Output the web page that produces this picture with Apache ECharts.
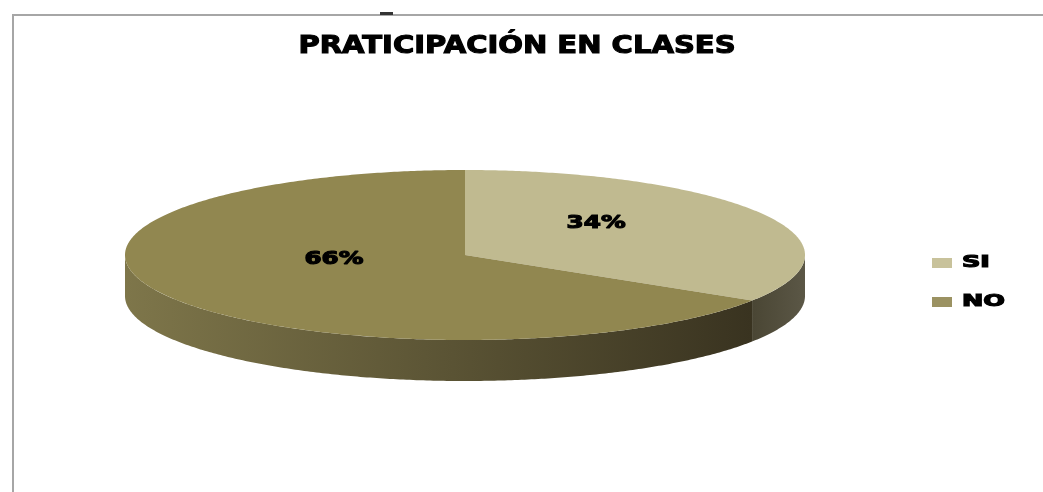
<!DOCTYPE html>
<html>
<head>
<meta charset="utf-8">
<script src="https://cdn.jsdelivr.net/npm/echarts@6/dist/echarts.min.js"></script>
<style>
  html, body { margin: 0; padding: 0; background: #ffffff; }
  #chart { width: 1043px; height: 492px; }
</style>
</head>
<body>
<div id="chart"></div>
<script>
// Chart content
const chartTitle = 'PRATICIPACIÓN EN CLASES';
const categories = ['SI', 'NO'];
const values = [34, 66];

// Slice colours: top face, front wall gradient (left -> right), legend swatch
const topColors = ['#C0BA90', '#918750'];
const wallColors = [['#4a4634', '#5b5746'], ['#7e764a', '#393320']];
const swatchColors = ['#C8C29B', '#9B9262'];

const total = values.reduce((a, b) => a + b, 0);

// Tilted disc geometry
const CX = 465, CY = 255, RX = 340, RY = 85, DEPTH = 41;
const FONT = 'DejaVu Sans';

function rimPoint(a, dy) {
  return [CX + RX * Math.sin(a), CY - RY * Math.cos(a) + (dy || 0)];
}
function arcPoints(a0, a1, dy) {
  const n = Math.max(2, Math.ceil((a1 - a0) / 0.01));
  const pts = [];
  for (let i = 0; i <= n; i++) pts.push(rimPoint(a0 + (a1 - a0) * i / n, dy));
  return pts;
}

// Heavy black text used for the title, labels and legend
function heavyText(text, size, align) {
  return {
    text: text,
    fill: '#000000',
    stroke: '#000000',
    lineWidth: 1.1,
    font: 'bold ' + size + 'px ' + FONT,
    align: align,
    verticalAlign: 'middle'
  };
}

// Draws one slice: visible front wall, top face and percentage label
function sliceRenderer(idx) {
  return function (params, api) {
    const v = api.value(0);
    let before = 0;
    for (let i = 0; i < idx; i++) before += values[i];
    const a0 = before / total * 2 * Math.PI;
    const a1 = (before + v) / total * 2 * Math.PI;
    const children = [];

    // front wall: only the part of the rim facing the viewer
    const s = Math.max(a0, Math.PI / 2);
    const e = Math.min(a1, 3 * Math.PI / 2);
    if (e > s) {
      const upper = arcPoints(s, e, 0);
      const lower = arcPoints(s, e, DEPTH).reverse();
      const xs = upper.map(p => p[0]);
      children.push({
        type: 'polygon',
        shape: { points: upper.concat(lower) },
        style: {
          fill: {
            type: 'linear', global: true,
            x: Math.min(...xs), y: 0, x2: Math.max(...xs), y2: 0,
            colorStops: [
              { offset: 0, color: wallColors[idx][0] },
              { offset: 1, color: wallColors[idx][1] }
            ]
          }
        }
      });
    }

    // top face
    children.push({
      type: 'polygon',
      shape: { points: [[CX, CY]].concat(arcPoints(a0, a1, 0)) },
      style: { fill: topColors[idx] }
    });

    // percentage label
    const mid = (a0 + a1) / 2;
    children.push({
      type: 'text',
      x: CX + RX * 0.44 * Math.sin(mid),
      y: CY - RY * 0.44 * Math.cos(mid) - 13,
      scaleX: 1.45,
      style: heavyText(Math.round(v / total * 100) + '%', 17, 'center')
    });

    return { type: 'group', children: children };
  };
}

const series = categories.map((name, idx) => ({
  type: 'custom',
  name: name,
  coordinateSystem: 'none',
  silent: true,
  data: [[values[idx]]],
  renderItem: sliceRenderer(idx)
}));

// Frame, title and legend
const graphic = [
  { type: 'rect', shape: { x: 12, y: 14, width: 1031, height: 2 }, style: { fill: '#a6a6a6' } },
  { type: 'rect', shape: { x: 12, y: 14, width: 2, height: 478 }, style: { fill: '#a6a6a6' } },
  { type: 'rect', shape: { x: 380, y: 12, width: 13, height: 3 }, style: { fill: '#333333' } },
  { type: 'text', x: 517, y: 47, scaleX: 1.21, style: heavyText(chartTitle, 24, 'center') }
];
categories.forEach((name, i) => {
  const y = 263 + i * 39;
  graphic.push({ type: 'rect', shape: { x: 932, y: y - 5, width: 20, height: 10 }, style: { fill: swatchColors[i] } });
  graphic.push({ type: 'text', x: 962, y: y, scaleX: 1.7, style: heavyText(name, 15, 'left') });
});

const chart = echarts.init(document.getElementById('chart'), null, { renderer: 'canvas' });
chart.setOption({
  backgroundColor: '#ffffff',
  animation: false,
  color: topColors,
  series: series,
  graphic: graphic
});
</script>
</body>
</html>
